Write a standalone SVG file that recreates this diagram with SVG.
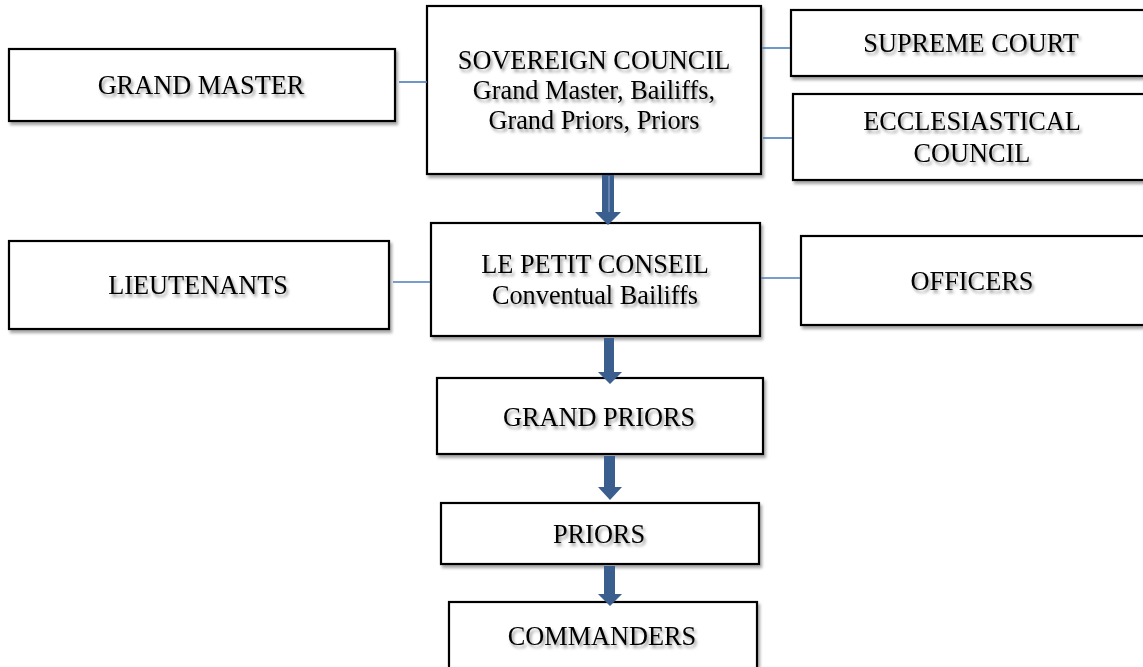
<svg xmlns="http://www.w3.org/2000/svg" width="1143" height="667" viewBox="0 0 1143 667">
<defs>
<filter id="bs" x="-5%" y="-10%" width="112%" height="125%">
<feDropShadow dx="2" dy="3" stdDeviation="1.5" flood-color="#000" flood-opacity="0.35"/>
</filter>
<filter id="ts" x="-5%" y="-30%" width="112%" height="170%">
<feDropShadow dx="2" dy="3" stdDeviation="1.8" flood-color="#000" flood-opacity="0.4"/>
</filter>
</defs>
<style>
.box{fill:#fff;stroke:#000;stroke-width:2.2;filter:url(#bs)}
.t{font-family:"Liberation Serif","Times New Roman",serif;font-size:26.3px;fill:#000;text-anchor:middle;filter:url(#ts)}
.c{stroke:#4A7EBB;stroke-width:1.6;fill:none}
.a{fill:#3A5F8E}
</style>
<g id="grand-master">
<rect class="box" x="9" y="49" width="386" height="72"/>
<text class="t" x="201" y="94">GRAND MASTER</text>
</g>
<g id="sovereign-council">
<rect class="box" x="427" y="6" width="334" height="168"/>
<text class="t" x="594" y="69">SOVEREIGN COUNCIL</text>
<text class="t" x="594" y="99">Grand Master, Bailiffs,</text>
<text class="t" x="594" y="129">Grand Priors, Priors</text>
</g>
<g id="supreme-court">
<rect class="box" x="791" y="10" width="360" height="66"/>
<text class="t" x="971" y="52">SUPREME COURT</text>
</g>
<g id="ecclesiastical-council">
<rect class="box" x="793" y="94" width="358" height="86"/>
<text class="t" x="972" y="130">ECCLESIASTICAL</text>
<text class="t" x="972" y="162">COUNCIL</text>
</g>
<g id="le-petit-conseil">
<rect class="box" x="431" y="223" width="329" height="113"/>
<text class="t" x="595" y="273">LE PETIT CONSEIL</text>
<text class="t" x="595" y="304">Conventual Bailiffs</text>
</g>
<g id="lieutenants">
<rect class="box" x="9" y="241" width="380" height="88"/>
<text class="t" x="198" y="294">LIEUTENANTS</text>
</g>
<g id="officers">
<rect class="box" x="801" y="236" width="350" height="89"/>
<text class="t" x="972" y="290">OFFICERS</text>
</g>
<g id="grand-priors">
<rect class="box" x="437" y="378" width="326" height="76"/>
<text class="t" x="599" y="426">GRAND PRIORS</text>
</g>
<g id="priors">
<rect class="box" x="441" y="503" width="318" height="61"/>
<text class="t" x="599" y="543">PRIORS</text>
</g>
<g id="commanders">
<rect class="box" x="449" y="602" width="308" height="80"/>
<text class="t" x="602" y="645">COMMANDERS</text>
</g>
<g id="connectors">
<line class="c" x1="399" y1="82" x2="427" y2="82"/>
<line class="c" x1="762" y1="48" x2="790" y2="48"/>
<line class="c" x1="763" y1="138" x2="792" y2="138"/>
<line class="c" x1="393" y1="282" x2="430" y2="282"/>
<line class="c" x1="761" y1="278" x2="800" y2="278"/>
<polygon class="a" points="602,175 614,175 614,212 621,212 608,225 595,212 602,212"/>
<line x1="609" y1="176" x2="609" y2="212" stroke="#8FA9CC" stroke-width="1"/>
<polygon class="a" points="604,338 614,338 614,372 622,372 610,384 598,372 604,372"/>
<polygon class="a" points="604,456 615,456 615,487 622,487 610,500 598,487 604,487"/>
<polygon class="a" points="604,566 615,566 615,594 622,594 610,606 598,594 604,594"/>
</g>
</svg>
